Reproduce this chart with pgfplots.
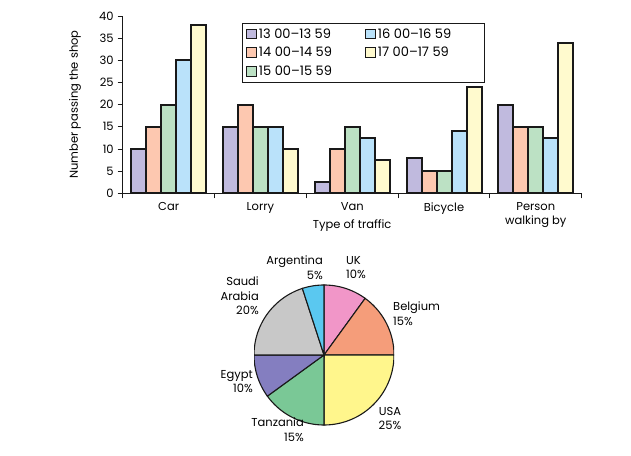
\documentclass[border=0pt]{standalone}
\usepackage{fontspec}
\setmainfont{Poppins}
\usepackage{pgfplots}
\pgfplotsset{compat=1.18}
\definecolor{cA}{RGB}{192,186,222}
\definecolor{cB}{RGB}{253,200,176}
\definecolor{cC}{RGB}{188,225,196}
\definecolor{cD}{RGB}{186,226,250}
\definecolor{cE}{RGB}{255,250,206}
\definecolor{edge}{RGB}{25,25,25}
\definecolor{pUK}{RGB}{241,150,200}
\definecolor{pBE}{RGB}{245,157,122}
\definecolor{pUS}{RGB}{255,246,140}
\definecolor{pTZ}{RGB}{122,200,150}
\definecolor{pEG}{RGB}{132,126,192}
\definecolor{pSA}{RGB}{200,200,200}
\definecolor{pAR}{RGB}{90,200,240}
\pgfplotstableread{
x A B C D E
0 10 15 20 30 38
1 15 20 15 15 10
2 2.5 10 15 12.5 7.5
3 8 5 5 14 24
4 20 15 15 12.5 34
}\traffic
\newcommand\fnt{\fontsize{11.5}{14.5}\selectfont}
\newcommand\lfnt{\fontsize{13}{14}\selectfont}
\newcommand\la[1]{\makebox[82pt][l]{#1}}
\newcommand\lb[1]{\makebox[100pt][l]{#1}}
\newcommand\slice[3]{\addplot[fill=#1, draw=edge, line width=1.1pt, domain={90-3.6*(#2+#3)}:{90-3.6*#2}, samples=40, variable=\t, mark=none] ({cos(\t)},{sin(\t)}) -- (axis cs:0,0) -- cycle;}
\begin{document}
\fnt
\begin{tikzpicture}
\useasboundingbox (0pt,0pt) rectangle (631pt,455pt);
\begin{axis}[
  at={(122.7pt,261.7pt)}, anchor=south west, scale only axis,
  width=459pt, height=177.3pt,
  xmin=-0.5, xmax=4.5, ymin=0, ymax=40,
  axis x line*=bottom, axis y line*=left,
  axis line style={draw=edge, line width=0.9pt},
  ytick={0,5,...,40},
  xtick={0,...,4},
  xticklabels={Car,Lorry,Van,Bicycle,{Person\\walking by}},
  xticklabel style={align=center, font=\fnt},
  yticklabel style={font=\fnt},
  major x tick style={draw=none},
  minor xtick={-0.5,0.5,...,4.5},
  minor tick style={draw=edge, line width=0.9pt},
  major tick style={draw=edge, line width=0.9pt},
  tick align=outside, major tick length=5pt, minor tick length=5pt,
  /pgf/number format/assume math mode=true,
  ybar=0pt, bar width=15pt,
  ylabel={Number passing the shop},
  ylabel style={at={(axis description cs:-0.104,0.5)}, anchor=center, font=\fnt},
  xlabel={Type of traffic},
  xlabel style={at={(axis description cs:0.5,-0.184)}, anchor=center, font=\fnt},
  legend style={at={(axis description cs:0.259,0.96)}, anchor=north west, draw=edge, line width=0.8pt,
    font=\lfnt, inner xsep=4pt, inner ysep=3pt, row sep=3.5pt,
    /tikz/every even column/.append style={column sep=22pt}},
  legend columns=3, transpose legend, legend cell align=left,
  legend image code/.code={\draw[#1, line width=1pt] (0pt,-4.5pt) rectangle (10pt,5pt);},
]
\addplot[draw=edge, line width=2pt, fill=cA] table[x=x,y=A]{\traffic};
\addplot[draw=edge, line width=2pt, fill=cB] table[x=x,y=B]{\traffic};
\addplot[draw=edge, line width=2pt, fill=cC] table[x=x,y=C]{\traffic};
\addplot[draw=edge, line width=2pt, fill=cD] table[x=x,y=D]{\traffic};
\addplot[draw=edge, line width=2pt, fill=cE] table[x=x,y=E]{\traffic};
\legend{\la{13 00--13 59},\la{14 00--14 59},\la{15 00--15 59},\lb{16 00--16 59},\lb{17 00--17 59}}
\end{axis}
\begin{axis}[
  at={(324pt,100pt)}, anchor=center, scale only axis, hide axis,
  width=140pt, height=140pt, xmin=-1, xmax=1, ymin=-1, ymax=1,
]
\slice{pUK}{0}{10}
\slice{pBE}{10}{15}
\slice{pUS}{25}{25}
\slice{pTZ}{50}{15}
\slice{pEG}{65}{10}
\slice{pSA}{75}{20}
\slice{pAR}{95}{5}
\end{axis}
\begin{scope}[every node/.style={inner sep=0pt, font=\fnt}]
\node[align=right, anchor=north east] at (323pt,199pt) {Argentina\\5\%};
\node[align=left, anchor=north west] at (346pt,199pt) {UK\\10\%};
\node[align=left, anchor=north west] at (393pt,153pt) {Belgium\\15\%};
\node[align=center, anchor=north] at (390pt,48pt) {USA\\25\%};
\node[align=right, anchor=north east] at (304pt,37pt) {Tanzania\\15\%};
\node[align=right, anchor=north east] at (253pt,85pt) {Egypt\\10\%};
\node[align=right, anchor=north east] at (259pt,178pt) {Saudi\\Arabia\\20\%};
\end{scope}
\end{tikzpicture}
\end{document}
